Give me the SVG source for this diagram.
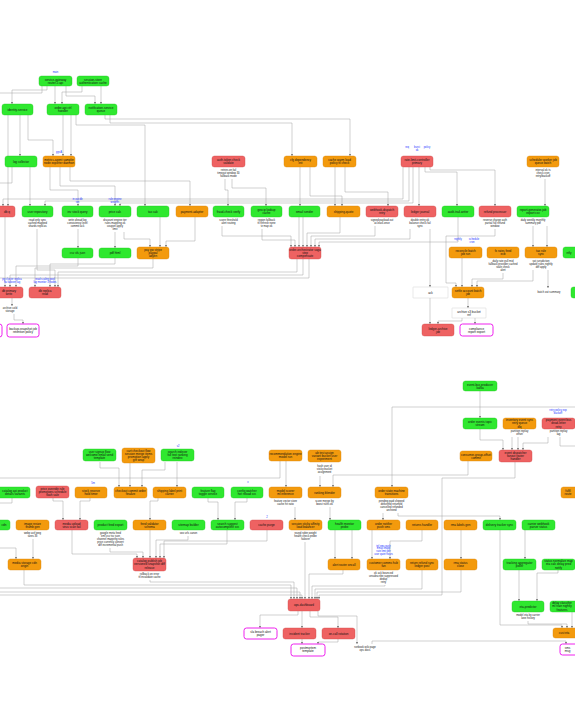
<svg xmlns="http://www.w3.org/2000/svg" width="575" height="725" viewBox="0 0 575 725">
<style>
rect.g{fill:#2fe82f;stroke:#22c822;stroke-width:0.4}
rect.o{fill:#f39a0d;stroke:#d8860a;stroke-width:0.4}
rect.r{fill:#ee6262;stroke:#d04848;stroke-width:0.4}
rect.m{fill:#ffffff;stroke:#ee22ee;stroke-width:1}
rect.w{fill:#ffffff;stroke:#c8c8c8;stroke-width:0.4}
text{font-family:"Liberation Sans",Arial,sans-serif;text-anchor:middle}
.t{font-size:3px;fill:#111}
.s{font-size:2.7px;fill:#222}
.b{font-size:2.6px;fill:#2233ff}
#edges path{fill:none;stroke:#a0a0a0;stroke-width:0.5;marker-end:url(#a)}
#edges path.n{marker-end:none}
</style>
<defs>
<marker id="a" viewBox="0 0 6 6" refX="6" refY="3" markerWidth="2.4" markerHeight="2.4" markerUnits="userSpaceOnUse" orient="auto"><path d="M0,0L6,3L0,6z" fill="#666"/></marker>
</defs>
<rect width="575" height="725" fill="#ffffff"/>
<g id="edges">
<path d="M47,86V90H12V104"/><path d="M55,86V104"/><path d="M66,86V96H95V104"/><path d="M82,86V92H62V104"/><path d="M101,86V104"/>
<path class="n" d="M42,86V93H0"/>
<path d="M20,115V156"/><path d="M8,115V206"/><path d="M28,115V140H53V156"/><path d="M63,115V156"/><path d="M71,115V156"/>
<path d="M76,115V125H145V206"/><path d="M105,115V119H350V156"/><path d="M110,115V123H292V156"/>
<path d="M30,167V206"/><path class="n" d="M12,167V183H0"/>
<path d="M50,167V190H78V206"/><path d="M60,167V186H115V206"/><path d="M70,167V181H190V206"/>
<path d="M225,179V190H228V206"/><path d="M232,179V188H266V206"/>
<path d="M300,167V206"/><path d="M310,167V196H342V206"/><path d="M335,167V206"/><path d="M345,167V192H388V206"/>
<path d="M403,167V199H3V206"/><path d="M409,167V201H45V206"/><path d="M413,167V203H120V206"/><path d="M419,167V206"/>
<path d="M425,167V172H457V206"/><path d="M430,167V170H495V206"/><path d="M545,179V206"/>
<path d="M37,229V270H55V287"/><path d="M78,229V248"/><path d="M115,232V248"/><path d="M124,232V239H150V247"/>
<path d="M160,217V247"/><path d="M195,217V241H166V247"/>
<path d="M78,258V266H16V287"/><path d="M115,258V264H50V287"/><path d="M153,259V268H35V287"/>
<path d="M297,259V272H58V287"/><path d="M303,259V275H10V287"/><path class="n" d="M309,259V278H0"/>
<path d="M5,217V287"/>
<path d="M222,226V236H291V247"/><path d="M262,229V240H295V247"/><path d="M299,217V247"/><path d="M303,217V247"/>
<path d="M340,217V233H307V247"/><path d="M375,226V236H311V247"/><path d="M410,229V239H315V247"/><path d="M458,217V242H319V247"/>
<path d="M495,229V236H446V283H456V287"/><path d="M462,258V287"/><path d="M503,273V279H472V287"/><path d="M533,270V281H477V287"/><path d="M548,270V288"/>
<path d="M533,226V247"/><path d="M547,226V247"/>
<path d="M430,229V287"/><path d="M430,298V324"/><path d="M468,298V308"/><path d="M462,318V321H438V324"/><path d="M475,318V324"/>
<path d="M12,298V306"/><path d="M14,314V320H23V324"/>
<path d="M480,391V418"/><path d="M575,407H392V487"/><path d="M480,429V440H503V450"/><path d="M512,437V450"/><path d="M518,437V450"/>
<path d="M548,437V443H523V450"/><path class="n" d="M560,437V446H575"/>
<path d="M515,462V478H442V595H319V599"/><path d="M468,461V475H333V487"/>
<path d="M100,462V468H119V487"/><path d="M130,463V487"/><path d="M165,462V470H142V487"/><path d="M177,462V487"/>
<path d="M286,461V487"/><path class="n" d="M280,461V478H0"/><path d="M320,476V487"/>
<path d="M53,498V501H63V520"/><path d="M90,498V501H80V520"/><path d="M158,498V501H150V520"/>
<path d="M208,498V502H218V520"/><path d="M247,498V502H235V520"/><path class="n" d="M12,498V503H0"/>
<path d="M295,507V520"/><path d="M330,507V520"/><path d="M383,513V520"/><path d="M398,513V516H500V520"/>
<path d="M0,548H16V559"/><path d="M33,539V559"/><path d="M24,570V585H291V599"/>
<path d="M72,530V554H137V558"/><path d="M110,548V552H143V558"/><path d="M150,530V558"/><path d="M188,536V540H156V558"/>
<path d="M227,530V544H160V558"/><path d="M267,530V541H164V558"/>
<path d="M150,580V582H294V599"/><path d="M0,588H297V599"/><path d="M0,592H300V599"/><path d="M0,595H302V599"/>
<path d="M305,542V599"/><path d="M335,530V559"/><path d="M352,530V559"/><path d="M343,570V574H309V599"/>
<path d="M372,530V559"/><path d="M422,530V541H390V559"/><path d="M385,585V586H312V599"/>
<path d="M422,570V589H315V599"/><path d="M461,530V559"/><path d="M461,570V592H317V599"/>
<path d="M500,530V625H562V628"/><path d="M525,530V559"/><path d="M519,570V601"/><path d="M558,570V573H537V601"/>
<path d="M528,621V624H567V628"/><path d="M572,612V628"/><path d="M372,644V641H566V644"/>
<path d="M298,611V615H260V628"/><path d="M302,611V628"/><path d="M310,611V617H338V628"/><path d="M318,611V616H357V644"/>
<path d="M302,639V644"/><path d="M338,639V642H318V644"/>
</g>
<!-- top section -->
<g id="t1"><text class="b" x="55.5" y="73">main</text><rect class="g" x="39" y="76" width="33" height="10" rx="2.5"/><text class="t" x="55.5" y="80.5"><tspan x="55.5">service-gateway</tspan><tspan x="55.5" dy="3.2">router-5 api</tspan></text></g>
<g id="t2"><rect class="g" x="77" y="76" width="32" height="10" rx="2.5"/><text class="t" x="93" y="80.5"><tspan x="93">session-store</tspan><tspan x="93" dy="3.2">authentication cache</tspan></text></g>
<g id="t3"><rect class="g" x="2" y="104" width="31" height="11" rx="2.5"/><text class="t" x="17.5" y="110.5">identity-service</text></g>
<g id="t4"><rect class="g" x="47" y="104" width="32" height="11" rx="2.5"/><text class="t" x="63" y="109"><tspan x="63">order-api   ctrl</tspan><tspan x="63" dy="3.2">handler</tspan></text></g>
<g id="t5"><rect class="g" x="85" y="104" width="32" height="11" rx="2.5"/><text class="t" x="101" y="109"><tspan x="101">notification-service</tspan><tspan x="101" dy="3.2">queue</tspan></text></g>
<g id="t6"><rect class="g" x="5" y="156" width="32" height="11" rx="2.5"/><text class="t" x="21" y="162.5">log   collector</text></g>
<g id="t7"><text class="b" x="59" y="153">grp A</text><rect class="o" x="43" y="156" width="32" height="11" rx="2.5"/><text class="t" x="59" y="161"><tspan x="59">metrics-agent sampler</tspan><tspan x="59" dy="3.2">node exporter daemon</tspan></text></g>
<g id="t8"><rect class="r" x="212" y="156" width="33" height="11" rx="2.5"/><text class="t" x="228.5" y="161"><tspan x="228.5">auth-token    check</tspan><tspan x="228.5" dy="3.2">validate</tspan></text><text class="s" x="228.5" y="171"><tspan x="228.5">retries on fail</tspan><tspan x="228.5" dy="3">timeout window 30</tspan><tspan x="228.5" dy="3">fallback mode</tspan></text></g>
<g id="t9"><rect class="o" x="284" y="156" width="33" height="11" rx="2.5"/><text class="t" x="300.5" y="161"><tspan x="300.5">cfg       dependency</tspan><tspan x="300.5" dy="3.2">init</tspan></text></g>
<g id="t10"><rect class="o" x="323" y="156" width="33" height="11" rx="2.5"/><text class="t" x="339.5" y="161"><tspan x="339.5">cache   warm   load</tspan><tspan x="339.5" dy="3.2">policy  ttl check</tspan></text></g>
<g id="t11"><text class="b" x="417" y="148"><tspan x="407">req</tspan><tspan x="417">burst</tspan><tspan x="427">policy</tspan></text><text class="b" x="417" y="151">ok</text><rect class="r" x="401" y="156" width="32" height="11" rx="2.5"/><text class="t" x="417" y="161"><tspan x="417">rate-limit-controller</tspan><tspan x="417" dy="3.2">primary</tspan></text></g>
<g id="t12"><rect class="o" x="527" y="156" width="32" height="11" rx="2.5"/><text class="t" x="543" y="161"><tspan x="543">scheduler  worker  job</tspan><tspan x="543" dy="3.2">queue  batch</tspan></text><text class="s" x="543" y="171"><tspan x="543">interval   ok   ts</tspan><tspan x="543" dy="3">check   cron</tspan><tspan x="543" dy="3">retry/backoff</tspan></text></g>
<g id="t13"><rect class="r" x="-5" y="206" width="20" height="11" rx="2.5"/><text class="t" x="7" y="212.5">db  q</text></g>
<g id="t14"><rect class="g" x="22" y="206" width="31" height="11" rx="2.5"/><text class="t" x="37.5" y="212.5">user   repository</text><text class="s" x="37.5" y="221"><tspan x="37.5">read  only   sync</tspan><tspan x="37.5" dy="3">cached   mapped</tspan><tspan x="37.5" dy="3">shards  replicas</tspan></text></g>
<g id="t15"><text class="b" x="77.5" y="200"><tspan x="77.5">in  out  db</tspan><tspan x="77.5" dy="3">txn</tspan></text><rect class="g" x="62" y="206" width="31" height="11" rx="2.5"/><text class="t" x="77.5" y="212.5">inv   stock  query</text><text class="s" x="77.5" y="221"><tspan x="77.5">write  ahead  log</tspan><tspan x="77.5" dy="3">consistency  level</tspan><tspan x="77.5" dy="3">commit  ack</tspan></text></g>
<g id="t16"><text class="b" x="115" y="200"><tspan x="115">rule   engine</tspan><tspan x="115" dy="3">weights</tspan></text><rect class="g" x="99" y="206" width="32" height="11" rx="2.5"/><text class="t" x="115" y="212.5">price   calc</text><text class="s" x="115" y="221"><tspan x="115">discount engine tier</tspan><tspan x="115" dy="3">rules  mapping  ok</tspan><tspan x="115" dy="3">coupon  apply</tspan><tspan x="115" dy="3">limit</tspan></text></g>
<g id="t17"><rect class="g" x="137" y="206" width="32" height="11" rx="2.5"/><text class="t" x="153" y="212.5">tax    calc</text></g>
<g id="t18"><rect class="o" x="176" y="206" width="32" height="11" rx="2.5"/><text class="t" x="192" y="212.5">payment-adapter</text></g>
<g id="t19"><rect class="g" x="213" y="206" width="31" height="11" rx="2.5"/><text class="t" x="228.5" y="212.5">fraud-check    verify</text><text class="s" x="228.5" y="221"><tspan x="228.5">score  threshold</tspan><tspan x="228.5" dy="3">alert routing</tspan></text></g>
<g id="t20"><rect class="g" x="251" y="206" width="31" height="11" rx="2.5"/><text class="t" x="266.5" y="211"><tspan x="266.5">geo   ip   lookup</tspan><tspan x="266.5" dy="3.2">cache</tspan></text><text class="s" x="266.5" y="221"><tspan x="266.5">region  fallback</tspan><tspan x="266.5" dy="3">ttl  refresh  none</tspan><tspan x="266.5" dy="3">tz   map   ok</tspan></text></g>
<g id="t21"><rect class="g" x="289" y="206" width="31" height="11" rx="2.5"/><text class="t" x="304.5" y="212.5">email      sender</text></g>
<g id="t22"><rect class="o" x="327" y="206" width="33" height="11" rx="2.5"/><text class="t" x="343.5" y="212.5">shipping-quote</text></g>
<g id="t23"><rect class="r" x="366" y="206" width="32" height="11" rx="2.5"/><text class="t" x="382" y="211"><tspan x="382">webhook-dispatch</tspan><tspan x="382" dy="3.2">retry</tspan></text><text class="s" x="382" y="221"><tspan x="382">signed payload  out</tspan><tspan x="382" dy="3">at-least-once</tspan></text></g>
<g id="t24"><rect class="r" x="404" y="206" width="32" height="11" rx="2.5"/><text class="t" x="420" y="212.5">ledger    journal</text><text class="s" x="420" y="221"><tspan x="420">double entry  ok</tspan><tspan x="420" dy="3">balance check fail</tspan><tspan x="420" dy="3">sync</tspan></text></g>
<g id="t25"><rect class="g" x="442" y="206" width="32" height="11" rx="2.5"/><text class="t" x="458" y="212.5">audit-trail-writer</text></g>
<g id="t26"><rect class="r" x="479" y="206" width="32" height="11" rx="2.5"/><text class="t" x="495" y="212.5">refund    processor</text><text class="s" x="495" y="221"><tspan x="495">reverse charge  auth</tspan><tspan x="495" dy="3">partial  full  refund</tspan><tspan x="495" dy="3">window</tspan></text></g>
<g id="t27"><rect class="g" x="517" y="206" width="32" height="11" rx="2.5"/><text class="t" x="533" y="211"><tspan x="533">report-generator-job</tspan><tspan x="533" dy="3.2">export csv</tspan></text><text class="s" x="533" y="221"><tspan x="533">daily  weekly  monthly</tspan><tspan x="533" dy="3">summary  pdf</tspan></text></g>
<g id="t28"><rect class="g" x="62" y="248" width="31" height="10" rx="2.5"/><text class="t" x="77.5" y="254">csv    xls    json</text></g>
<g id="t29"><rect class="g" x="99" y="248" width="32" height="10" rx="2.5"/><text class="t" x="115" y="254">pdf    html</text></g>
<g id="t30"><rect class="o" x="137" y="247" width="32" height="12" rx="2.5"/><text class="t" x="153" y="250.8"><tspan x="153">pay   gw   stripe</tspan><tspan x="153" dy="3.1">paypal</tspan><tspan x="153" dy="3.1">adyen</tspan></text></g>
<g id="t31"><rect class="r" x="289" y="247" width="32" height="12" rx="2.5"/><text class="t" x="305" y="250.8"><tspan x="305">order-orchestrator saga</tspan><tspan x="305" dy="3.1">step</tspan><tspan x="305" dy="3.1">compensate</tspan></text></g>
<g id="t32"><text class="b" x="465.5" y="240"><tspan x="458">nightly</tspan><tspan x="474">schedule</tspan></text><text class="b" x="472" y="243">cron</text><rect class="o" x="449" y="247" width="33" height="11" rx="2.5"/><text class="t" x="465.5" y="252"><tspan x="465.5">reconcile   batch</tspan><tspan x="465.5" dy="3.2">job  run</tspan></text></g>
<g id="t33"><rect class="o" x="487" y="247" width="32" height="11" rx="2.5"/><text class="t" x="503" y="252"><tspan x="503">fx    rates    feed</tspan><tspan x="503" dy="3.2">ecb</tspan></text><text class="s" x="503" y="262"><tspan x="503">daily rate  pull  mid</tspan><tspan x="503" dy="3">fallback provider cached</tspan><tspan x="503" dy="3">stale  check</tspan><tspan x="503" dy="3">alert</tspan></text></g>
<g id="t34"><rect class="o" x="525" y="247" width="32" height="11" rx="2.5"/><text class="t" x="541" y="252"><tspan x="541">tax    rule</tspan><tspan x="541" dy="3.2">sync</tspan></text><text class="s" x="541" y="262"><tspan x="541">vat   jurisdiction</tspan><tspan x="541" dy="3">update rules nightly</tspan><tspan x="541" dy="3">diff  apply</tspan></text></g>
<g id="t35"><rect class="g" x="563" y="247" width="20" height="11" rx="2.5"/><text class="t" x="569" y="253.5">ntfy</text></g>
<g id="t36"><text class="b" x="12" y="280"><tspan x="12">pg cluster replica</tspan><tspan x="12" dy="3">ha failover lag</tspan></text><rect class="r" x="-10" y="287" width="33" height="11" rx="2.5"/><text class="t" x="9" y="292"><tspan x="9">db  primary</tspan><tspan x="9" dy="3.2">write</tspan></text></g>
<g id="t37"><text class="b" x="45" y="280"><tspan x="45">read scaling  pool</tspan><tspan x="45" dy="3">lag monitor  3 nodes</tspan></text><rect class="r" x="29" y="287" width="32" height="11" rx="2.5"/><text class="t" x="45" y="292"><tspan x="45">db   replica</tspan><tspan x="45" dy="3.2">read</tspan></text></g>
<g id="t36note"><text class="s" x="10" y="309"><tspan x="10">archive   cold</tspan><tspan x="10" dy="3">storage</tspan></text></g>
<g id="t38"><rect class="w" x="413" y="287" width="35" height="11" rx="0.5"/><text class="t" x="430.5" y="293.5">ack</text></g>
<g id="t39"><rect class="o" x="452" y="287" width="32" height="11" rx="2.5"/><text class="t" x="468" y="292"><tspan x="468">settle  account  batch</tspan><tspan x="468" dy="3.2">job</tspan></text></g>
<g id="t40"><text class="s" x="549" y="293">batch  out  summary</text></g>
<g id="t41"><rect class="g" x="571" y="287" width="10" height="11" rx="2.5"/></g>
<g id="t42"><rect class="w" x="452" y="308" width="34" height="10" rx="0.5"/><text class="t" x="469" y="312.5"><tspan x="469">archive  s3  bucket</tspan><tspan x="469" dy="3.2">ref</tspan></text></g>
<g id="t43"><rect class="m" x="-25" y="324" width="27" height="13" rx="2.5"/></g>
<g id="t44"><rect class="m" x="7" y="324" width="32" height="13" rx="2.5"/><text class="t" x="23" y="329.5"><tspan x="23">backup-snapshot  job</tspan><tspan x="23" dy="3.2">retention policy</tspan></text></g>
<g id="t45"><rect class="r" x="422" y="324" width="32" height="12" rx="2.5"/><text class="t" x="438" y="329.5"><tspan x="438">ledger-archive</tspan><tspan x="438" dy="3.2">job</tspan></text></g>
<g id="t46"><rect class="m" x="460" y="324" width="33" height="12" rx="2.5"/><text class="t" x="476.5" y="329.5"><tspan x="476.5">compliance</tspan><tspan x="476.5" dy="3.2">report  export</tspan></text></g>
<!-- bottom section -->
<g id="b1"><rect class="g" x="463" y="381" width="34" height="10" rx="2.5"/><text class="t" x="480" y="385.5"><tspan x="480">event-bus  producer</tspan><tspan x="480" dy="3.2">kafka</tspan></text></g>
<g id="b7"><rect class="g" x="463" y="418" width="34" height="11" rx="2.5"/><text class="t" x="480" y="423"><tspan x="480">order  events  topic</tspan><tspan x="480" dy="3.2">stream</tspan></text></g>
<g id="b8"><rect class="o" x="503" y="418" width="33" height="11" rx="2.5"/><text class="t" x="519.5" y="421.3"><tspan x="519.5">inventory  event  sync</tspan><tspan x="519.5" dy="3.1">retry  queue</tspan><tspan x="519.5" dy="3.1">dlq</tspan></text><text class="s" x="519.5" y="432"><tspan x="519.5">partition   replay</tspan><tspan x="519.5" dy="3">offset</tspan></text></g>
<g id="b9"><text class="b" x="558" y="411"><tspan x="558">retry policy exp</tspan><tspan x="558" dy="3">backoff</tspan></text><rect class="r" x="542" y="418" width="33" height="11" rx="2.5"/><text class="t" x="558.5" y="421.3"><tspan x="558.5">payment  event  bus</tspan><tspan x="558.5" dy="3.1">dead-letter</tspan><tspan x="558.5" dy="3.1">retry</tspan></text><text class="s" x="558.5" y="432"><tspan x="558.5">partition   replay</tspan><tspan x="558.5" dy="3">lag</tspan></text></g>
<g id="b10"><rect class="o" x="460" y="451" width="32" height="10" rx="2.5"/><text class="t" x="476" y="455.5"><tspan x="476">consumer-group-offset</tspan><tspan x="476" dy="3.2">commit</tspan></text></g>
<g id="b11"><rect class="r" x="499" y="450" width="33" height="12" rx="2.5"/><text class="t" x="515.5" y="453.8"><tspan x="515.5">event    dispatcher</tspan><tspan x="515.5" dy="3.1">fanout   router</tspan><tspan x="515.5" dy="3.1">handler</tspan></text></g>
<g id="b2"><rect class="g" x="83" y="449" width="33" height="12" rx="2.5"/><text class="t" x="99.5" y="452.8"><tspan x="99.5">user  signup  flow</tspan><tspan x="99.5" dy="3.1">welcome email send</tspan><tspan x="99.5" dy="3.1">template</tspan></text></g>
<g id="b3"><rect class="o" x="122" y="448" width="33" height="15" rx="2.5"/><text class="t" x="138.5" y="451.8"><tspan x="138.5">cart  checkout  flow</tspan><tspan x="138.5" dy="3.1">session merge items</tspan><tspan x="138.5" dy="3.1">promotion  apply</tspan><tspan x="138.5" dy="3.1">gift  wrap</tspan></text></g>
<g id="b4"><text class="b" x="178" y="446.5">v2</text><rect class="g" x="161" y="449" width="33" height="12" rx="2.5"/><text class="t" x="177.5" y="452.8"><tspan x="177.5">search   indexer</tspan><tspan x="177.5" dy="3.1">full  text  ranking</tspan><tspan x="177.5" dy="3.1">reindex</tspan></text></g>
<g id="b5"><rect class="o" x="269" y="450" width="33" height="11" rx="2.5"/><text class="t" x="285.5" y="455"><tspan x="285.5">recommendation  engine</tspan><tspan x="285.5" dy="3.2">model  run</tspan></text></g>
<g id="b6"><rect class="o" x="308" y="450" width="33" height="12" rx="2.5"/><text class="t" x="324.5" y="453.8"><tspan x="324.5">ab   test   assign</tspan><tspan x="324.5" dy="3.1">variant  bucket  user</tspan><tspan x="324.5" dy="3.1">experiment</tspan></text><text class="s" x="324.5" y="467"><tspan x="324.5">hash  user  id</tspan><tspan x="324.5" dy="3">sticky  bucket</tspan><tspan x="324.5" dy="3">assignment</tspan></text></g>
<g id="b12"><rect class="g" x="-5" y="487" width="35" height="11" rx="2.5"/><text class="t" x="15" y="492"><tspan x="15">catalog api product</tspan><tspan x="15" dy="3.2">details  variants</tspan></text></g>
<g id="b13"><rect class="r" x="36" y="486" width="33" height="12" rx="2.5"/><text class="t" x="52.5" y="489.8"><tspan x="52.5">price  override  rule</tspan><tspan x="52.5" dy="3.1">promotions schedule</tspan><tspan x="52.5" dy="3.1">flash  sale</tspan></text></g>
<g id="b14"><text class="b" x="93" y="484">5m</text><rect class="o" x="75" y="487" width="32" height="11" rx="2.5"/><text class="t" x="91" y="492"><tspan x="91">stock   reserve</tspan><tspan x="91" dy="3.2">hold  timer</tspan></text></g>
<g id="b15"><rect class="o" x="114" y="487" width="33" height="11" rx="2.5"/><text class="t" x="130.5" y="492"><tspan x="130.5">checkout  commit  order</tspan><tspan x="130.5" dy="3.2">finalize</tspan></text></g>
<g id="b16"><rect class="o" x="153" y="487" width="33" height="11" rx="2.5"/><text class="t" x="169.5" y="492"><tspan x="169.5">shipping  label  print</tspan><tspan x="169.5" dy="3.2">carrier</tspan></text></g>
<g id="b17"><rect class="g" x="192" y="487" width="32" height="11" rx="2.5"/><text class="t" x="208" y="492"><tspan x="208">feature   flag</tspan><tspan x="208" dy="3.2">toggle  service</tspan></text></g>
<g id="b18"><text class="b" x="248" y="483">x</text><rect class="g" x="231" y="487" width="32" height="11" rx="2.5"/><text class="t" x="247" y="492"><tspan x="247">config   watcher</tspan><tspan x="247" dy="3.2">hot  reload  svc</tspan></text></g>
<g id="b19"><rect class="o" x="269" y="487" width="33" height="11" rx="2.5"/><text class="t" x="285.5" y="492"><tspan x="285.5">model    scorer</tspan><tspan x="285.5" dy="3.2">ml  inference</tspan></text><text class="s" x="285.5" y="502"><tspan x="285.5">feature vector store</tspan><tspan x="285.5" dy="3">cache  hit  ratio</tspan></text></g>
<g id="b20"><rect class="o" x="308" y="487" width="33" height="11" rx="2.5"/><text class="t" x="324.5" y="493.5">ranking   blender</text><text class="s" x="324.5" y="502"><tspan x="324.5">score  merge  by</tspan><tspan x="324.5" dy="3">boost  rules  ok</tspan></text></g>
<g id="b21"><rect class="o" x="375" y="487" width="33" height="11" rx="2.5"/><text class="t" x="391.5" y="492"><tspan x="391.5">order  state  machine</tspan><tspan x="391.5" dy="3.2">transitions</tspan></text><text class="s" x="391.5" y="502"><tspan x="391.5">pending paid shipped</tspan><tspan x="391.5" dy="3">delivered  returned</tspan><tspan x="391.5" dy="3">cancelled  refunded</tspan><tspan x="391.5" dy="3">archived</tspan></text></g>
<g id="b22"><rect class="o" x="561" y="487" width="30" height="11" rx="2.5"/><text class="t" x="568" y="492"><tspan x="568">fulfil</tspan><tspan x="568" dy="3.2">route</tspan></text></g>
<g id="b23"><rect class="g" x="-20" y="520" width="30" height="10" rx="2.5"/><text class="t" x="4" y="526">cdn</text></g>
<g id="b24"><rect class="o" x="16" y="520" width="33" height="10" rx="2.5"/><text class="t" x="32.5" y="524.5"><tspan x="32.5">image   resize</tspan><tspan x="32.5" dy="3.2">thumb  gen</tspan></text><text class="s" x="32.5" y="534"><tspan x="32.5">webp  avif  jpeg</tspan><tspan x="32.5" dy="3">sizes  3x</tspan></text></g>
<g id="b25"><rect class="r" x="55" y="520" width="33" height="10" rx="2.5"/><text class="t" x="71.5" y="524.5"><tspan x="71.5">media   upload</tspan><tspan x="71.5" dy="3.2">virus  scan  fail</tspan></text></g>
<g id="b26"><rect class="g" x="94" y="520" width="33" height="10" rx="2.5"/><text class="t" x="110.5" y="526">product  feed  export</text><text class="s" x="110.5" y="534"><tspan x="110.5">google  meta  feed</tspan><tspan x="110.5" dy="3">xml  csv  tsv  json</tspan><tspan x="110.5" dy="3">channel mapping rules</tspan><tspan x="110.5" dy="3">price currency convert</tspan><tspan x="110.5" dy="3">diff  incremental  push</tspan></text></g>
<g id="b27"><rect class="o" x="133" y="520" width="33" height="10" rx="2.5"/><text class="t" x="149.5" y="524.5"><tspan x="149.5">feed   validator</tspan><tspan x="149.5" dy="3.2">schema</tspan></text></g>
<g id="b28"><rect class="g" x="172" y="520" width="33" height="10" rx="2.5"/><text class="t" x="188.5" y="526">sitemap   builder</text><text class="s" x="188.5" y="534">seo  urls  canon</text></g>
<g id="b29"><rect class="g" x="211" y="520" width="33" height="10" rx="2.5"/><text class="t" x="227.5" y="524.5"><tspan x="227.5">search   suggest</tspan><tspan x="227.5" dy="3.2">autocomplete  svc</tspan></text></g>
<g id="b30"><text class="b" x="267" y="517.5">2</text><rect class="r" x="250" y="520" width="33" height="10" rx="2.5"/><text class="t" x="266.5" y="526">cache    purge</text></g>
<g id="b31"><rect class="o" x="289" y="520" width="33" height="10" rx="2.5"/><text class="t" x="305.5" y="524.5"><tspan x="305.5">session sticky affinity</tspan><tspan x="305.5" dy="3.2">load  balancer</tspan></text><text class="s" x="305.5" y="534"><tspan x="305.5">round  robin  weight</tspan><tspan x="305.5" dy="3">health check probe</tspan><tspan x="305.5" dy="3">failover</tspan></text></g>
<g id="b32"><rect class="g" x="328" y="520" width="33" height="10" rx="2.5"/><text class="t" x="344.5" y="524.5"><tspan x="344.5">health   monitor</tspan><tspan x="344.5" dy="3.2">probe</tspan></text></g>
<g id="b33"><rect class="o" x="367" y="520" width="33" height="10" rx="2.5"/><text class="t" x="383.5" y="524.5"><tspan x="383.5">order   notifier</tspan><tspan x="383.5" dy="3.2">push  sms</tspan></text></g>
<g id="b34"><rect class="o" x="406" y="520" width="32" height="10" rx="2.5"/><text class="t" x="422" y="526">returns   handler</text></g>
<g id="b35"><rect class="o" x="444" y="520" width="33" height="10" rx="2.5"/><text class="t" x="460.5" y="526">rma   labels   gen</text></g>
<g id="b36"><rect class="g" x="483" y="520" width="33" height="10" rx="2.5"/><text class="t" x="499.5" y="526">delivery tracker sync</text></g>
<g id="b37"><rect class="g" x="522" y="520" width="33" height="10" rx="2.5"/><text class="t" x="538.5" y="524.5"><tspan x="538.5">carrier   webhook</tspan><tspan x="538.5" dy="3.2">parser  status</tspan></text></g>
<g id="b38"><rect class="o" x="8" y="559" width="33" height="11" rx="2.5"/><text class="t" x="24.5" y="564"><tspan x="24.5">media storage cdn</tspan><tspan x="24.5" dy="3.2">origin</tspan></text></g>
<g id="b39"><rect class="r" x="133" y="558" width="33" height="13" rx="2.5"/><text class="t" x="149.5" y="562.3"><tspan x="149.5">catalog publish job</tspan><tspan x="149.5" dy="3.1">versioned snapshot diff</tspan><tspan x="149.5" dy="3.1">release</tspan></text><text class="s" x="149.5" y="575"><tspan x="149.5">rollback  on  error</tspan><tspan x="149.5" dy="3">ttl invalidate cache</tspan></text></g>
<g id="b40"><rect class="o" x="328" y="559" width="32" height="11" rx="2.5"/><text class="t" x="344" y="565.5">alert  router  oncall</text></g>
<g id="b41"><text class="b" x="383.5" y="546.5"><tspan x="383.5">tpl   sms   push</tspan><tspan x="383.5" dy="2.8">email  inapp</tspan><tspan x="383.5" dy="2.8">rate limit per</tspan><tspan x="383.5" dy="2.8">user quiet hours</tspan></text><rect class="o" x="367" y="559" width="33" height="11" rx="2.5"/><text class="t" x="383.5" y="564"><tspan x="383.5">customer comms hub</tspan><tspan x="383.5" dy="3.2">fan</tspan></text><text class="s" x="383.5" y="574"><tspan x="383.5">ok  ack  bounced</tspan><tspan x="383.5" dy="3">unsubscribe suppressed</tspan><tspan x="383.5" dy="3">dedup</tspan><tspan x="383.5" dy="3">retry</tspan></text></g>
<g id="b42"><rect class="o" x="406" y="559" width="32" height="11" rx="2.5"/><text class="t" x="422" y="564"><tspan x="422">return refund sync</tspan><tspan x="422" dy="3.2">ledger  post</tspan></text></g>
<g id="b43"><rect class="o" x="444" y="559" width="33" height="11" rx="2.5"/><text class="t" x="460.5" y="564"><tspan x="460.5">rma    status</tspan><tspan x="460.5" dy="3.2">close</tspan></text></g>
<g id="b44"><rect class="g" x="503" y="559" width="33" height="11" rx="2.5"/><text class="t" x="519.5" y="564"><tspan x="519.5">tracking aggregator</tspan><tspan x="519.5" dy="3.2">poller</tspan></text></g>
<g id="b45"><rect class="g" x="542" y="559" width="33" height="11" rx="2.5"/><text class="t" x="558.5" y="562.3"><tspan x="558.5">status normalize map</tspan><tspan x="558.5" dy="3.1">eta calc delay pred</tspan><tspan x="558.5" dy="3.1">notify</tspan></text></g>
<g id="b46"><rect class="r" x="288" y="599" width="32" height="12" rx="2.5"/><text class="t" x="304" y="606">ops-dashboard</text></g>
<g id="b47"><rect class="g" x="512" y="601" width="32" height="11" rx="2.5"/><text class="t" x="528" y="607.5">eta-predictor</text><text class="s" x="528" y="616"><tspan x="528">model eta by carrier</tspan><tspan x="528" dy="3">lane  history</tspan></text></g>
<g id="b48"><rect class="g" x="550" y="601" width="32" height="11" rx="2.5"/><text class="t" x="562" y="604.3"><tspan x="562">delay classifier</tspan><tspan x="562" dy="3.1">ml train nightly</tspan><tspan x="562" dy="3.1">features</tspan></text></g>
<g id="b49"><rect class="m" x="244" y="628" width="33" height="11" rx="2.5"/><text class="t" x="260.5" y="632.5"><tspan x="260.5">sla breach alert</tspan><tspan x="260.5" dy="3.2">pager</tspan></text></g>
<g id="b50"><rect class="r" x="283" y="628" width="33" height="11" rx="2.5"/><text class="t" x="299.5" y="634.5">incident   tracker</text></g>
<g id="b51"><rect class="r" x="322" y="628" width="33" height="11" rx="2.5"/><text class="t" x="338.5" y="634.5">on-call   rotation</text></g>
<g id="b52"><rect class="o" x="553" y="628" width="30" height="10" rx="2.5"/><text class="t" x="564" y="634">cust  eta</text></g>
<g id="b53"><rect class="m" x="291" y="644" width="34" height="12" rx="2.5"/><text class="t" x="308" y="649"><tspan x="308">postmortem</tspan><tspan x="308" dy="3.2">template</tspan></text></g>
<g id="b54"><text class="s" x="365" y="647.5"><tspan x="365">runbook  wiki  page</tspan><tspan x="365" dy="3">ops  docs</tspan></text></g>
<g id="b55"><rect class="m" x="560" y="644" width="25" height="11" rx="2.5"/><text class="t" x="567.5" y="648.5"><tspan x="567.5">sms</tspan><tspan x="567.5" dy="3.2">msg</tspan></text></g>
</svg>
